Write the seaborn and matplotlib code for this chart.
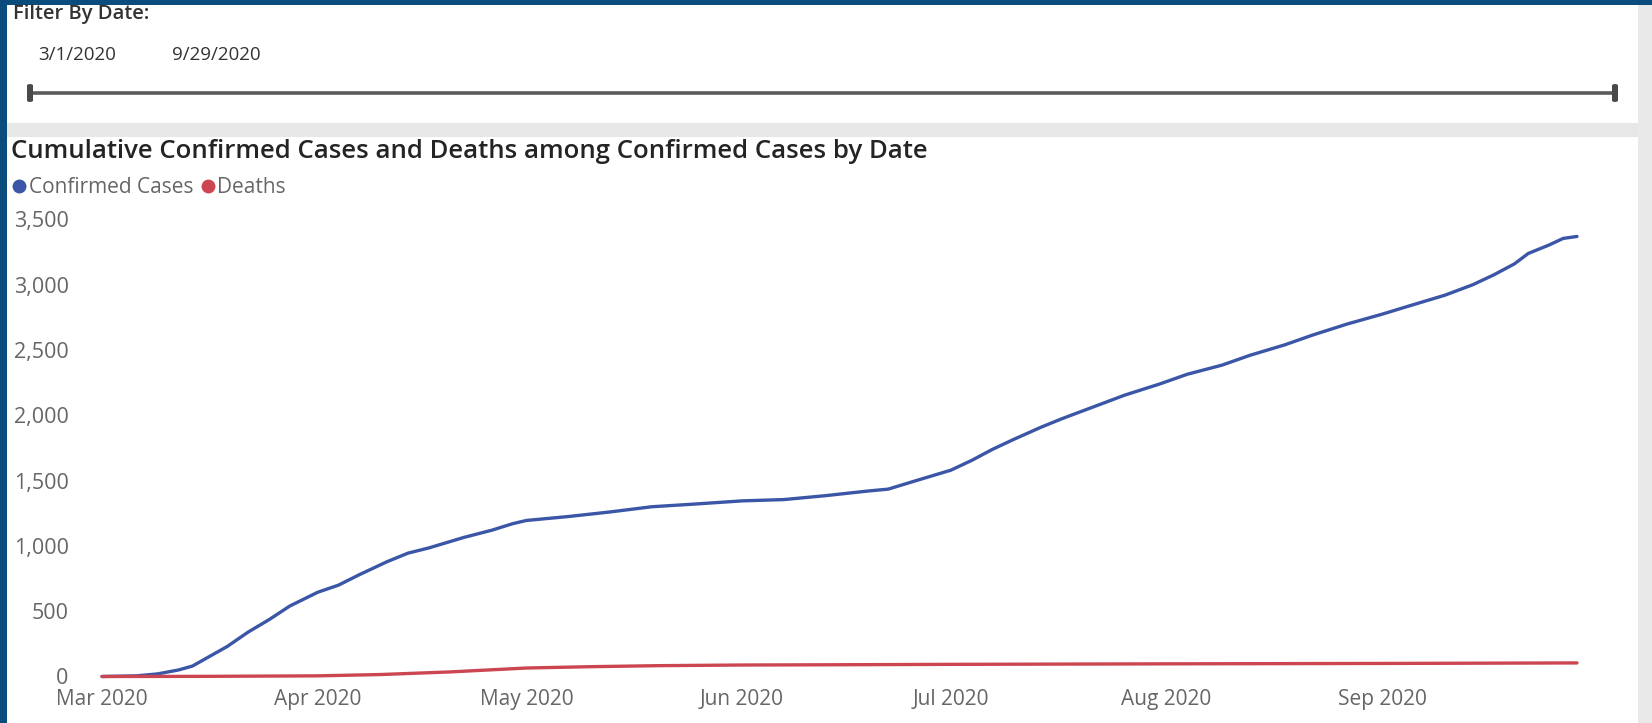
import matplotlib
matplotlib.use("Agg")
import matplotlib.pyplot as plt
from matplotlib.lines import Line2D
from matplotlib.patches import Rectangle, FancyBboxPatch
import pandas as pd
import seaborn as sns

# ---------------- data ----------------
conf_dates = ["2020-03-01", "2020-03-06", "2020-03-09", "2020-03-12", "2020-03-14",
              "2020-03-16", "2020-03-19", "2020-03-22", "2020-03-25", "2020-03-28",
              "2020-04-01", "2020-04-04", "2020-04-07", "2020-04-11", "2020-04-14",
              "2020-04-17", "2020-04-22", "2020-04-26", "2020-04-29", "2020-05-01",
              "2020-05-07", "2020-05-13", "2020-05-19", "2020-05-25", "2020-06-01",
              "2020-06-07", "2020-06-13", "2020-06-19", "2020-06-22", "2020-06-26",
              "2020-07-01", "2020-07-04", "2020-07-07", "2020-07-10", "2020-07-14",
              "2020-07-17", "2020-07-22", "2020-07-26", "2020-07-31", "2020-08-04",
              "2020-08-09", "2020-08-13", "2020-08-18", "2020-08-22", "2020-08-27",
              "2020-09-01", "2020-09-05", "2020-09-10", "2020-09-14", "2020-09-17",
              "2020-09-20", "2020-09-22", "2020-09-25", "2020-09-27", "2020-09-29"]
conf_values = [0, 5, 20, 50, 80,
               140, 230, 340, 435, 540,
               645, 700, 780, 880, 945,
               985, 1065, 1120, 1170, 1195,
               1225, 1260, 1300, 1320, 1345,
               1355, 1385, 1420, 1435, 1500,
               1580, 1655, 1740, 1815, 1910,
               1975, 2075, 2155, 2240, 2315,
               2385, 2460, 2540, 2615, 2700,
               2775, 2840, 2920, 3000, 3075,
               3160, 3240, 3305, 3355, 3370]

death_dates = ["2020-03-01", "2020-03-15", "2020-04-01", "2020-04-10", "2020-04-20",
               "2020-05-01", "2020-05-10", "2020-05-20", "2020-06-01", "2020-06-15",
               "2020-07-01", "2020-08-01", "2020-09-01", "2020-09-29"]
death_values = [0, 1, 5, 15, 35,
                65, 75, 83, 88, 90,
                93, 97, 100, 104]

series_names = ["Confirmed Cases", "Deaths"]
series_colors = ["#3b56a6", "#cc4652"]
y_ticks = [0, 500, 1000, 1500, 2000, 2500, 3000, 3500]
x_tick_dates = ["2020-03-01", "2020-04-01", "2020-05-01", "2020-06-01",
                "2020-07-01", "2020-08-01", "2020-09-01"]
x_tick_labels = ["Mar 2020", "Apr 2020", "May 2020", "Jun 2020",
                 "Jul 2020", "Aug 2020", "Sep 2020"]
slicer_start, slicer_end = "3/1/2020", "9/29/2020"
title = "Cumulative Confirmed Cases and Deaths among Confirmed Cases by Date"

df = pd.concat([
    pd.DataFrame({"Date": pd.to_datetime(conf_dates), "Value": conf_values,
                  "Series": series_names[0]}),
    pd.DataFrame({"Date": pd.to_datetime(death_dates), "Value": death_values,
                  "Series": series_names[1]}),
], ignore_index=True)

# ---------------- figure ----------------
sns.set_theme(style="white")
plt.rcParams["font.family"] = ["Open Sans", "DejaVu Sans"]

W, H = 1652, 723
fig = plt.figure(figsize=(W / 100, H / 100), dpi=100, facecolor="#0a4d7c")

def fx(px):
    return px / W

def fy(py):
    return 1 - py / H

# white panel (inside the dark blue frame)
fig.patches.append(Rectangle((fx(7), 0), 1 - fx(7), fy(5), transform=fig.transFigure,
                             facecolor="white", edgecolor="none", zorder=0))
# right scroll strip
fig.patches.append(Rectangle((fx(1638), 0), fx(14), fy(5), transform=fig.transFigure,
                             facecolor="#e9e9e9", edgecolor="none", zorder=0.5))
# grey separator band
fig.patches.append(Rectangle((fx(7), fy(137)), fx(1631), 14 / H, transform=fig.transFigure,
                             facecolor="#e7e7e7", edgecolor="none", zorder=0.5))

# slicer
fig.text(fx(13), fy(14), "Filter By Date:", fontsize=14.5, color="#333333",
         fontweight="semibold", va="center", ha="left")
fig.text(fx(77), fy(55), slicer_start, fontsize=13.5, color="#333333", va="center", ha="center")
fig.text(fx(216), fy(55), slicer_end, fontsize=13.5, color="#333333", va="center", ha="center")
fig.lines.append(Line2D([fx(30), fx(1615)], [fy(93), fy(93)], transform=fig.transFigure,
                        color="#5a5a5a", lw=2.6, zorder=2))
for hx in (30, 1615):
    fig.patches.append(FancyBboxPatch((fx(hx - 3), fy(102)), fx(6), 18 / H,
                                      boxstyle="round,pad=0,rounding_size=0.002",
                                      transform=fig.transFigure, facecolor="#4a4a4a",
                                      edgecolor="none", zorder=3))

# title
fig.text(fx(11), fy(152), title, fontsize=18.5, fontweight="semibold",
         color="#252423", va="center", ha="left")

# ---------------- chart ----------------
ax = fig.add_axes([fx(102), fy(676.5), fx(1577) - fx(102), (676.5 - 219.5) / H])
ax.set_zorder(5)
ax.set_facecolor("none")
sns.lineplot(data=df, x="Date", y="Value", hue="Series", palette=series_colors,
             hue_order=series_names, linewidth=2.4, legend=False, ax=ax)
for ln in ax.lines:
    ln.set_clip_on(False)
    ln.set_solid_capstyle("round")

ax.set_xlim(pd.Timestamp("2020-03-01"), pd.Timestamp("2020-09-29"))
ax.set_ylim(0, 3500)
ax.set_yticks(y_ticks)
ax.set_yticklabels([f"{v:,}" for v in y_ticks])
ax.set_xticks(pd.to_datetime(x_tick_dates))
ax.set_xticklabels(x_tick_labels)
ax.tick_params(axis="y", length=0, pad=24, labelsize=15.5, labelcolor="#666666")
ax.tick_params(axis="x", length=0, pad=9, labelsize=15, labelcolor="#666666")
for s in ax.spines.values():
    s.set_visible(False)
ax.set_xlabel("")
ax.set_ylabel("")
ax.grid(False)

# legend
handles = [Line2D([], [], marker="o", linestyle="none", markersize=9,
                  markerfacecolor=c, markeredgecolor=c) for c in series_colors]
fig.legend(handles, series_names, loc="center left", bbox_to_anchor=(fx(11), fy(187.5)),
           ncol=2, frameon=False, fontsize=15, labelcolor="#666666",
           handletextpad=0.05, columnspacing=0.3, handlelength=0.8, borderaxespad=0,
           borderpad=0)

fig.savefig("out.png", dpi=100, facecolor=fig.get_facecolor())
